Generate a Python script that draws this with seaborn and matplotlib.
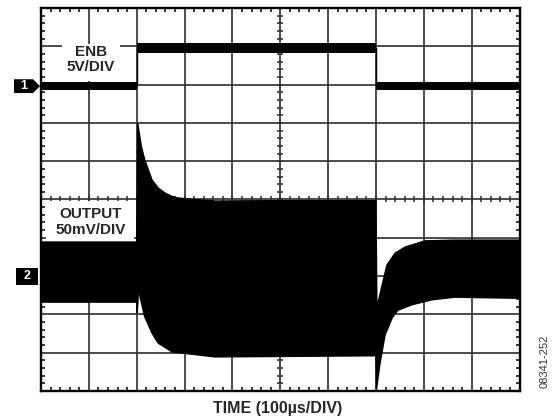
import numpy as np
import pandas as pd
import matplotlib
matplotlib.use("Agg")
import matplotlib.pyplot as plt
from matplotlib.patches import Rectangle, Polygon
import seaborn as sns

# -----------------------------
# Data (read from the scope shot, units = divisions, 10 x 10 grid)
# -----------------------------
# channel 1: ENB, thick noisy band
enb_time = [0.0, 2.0, 7.0, 10.0]
enb_level = [7.96, 8.96, 7.96, 7.96]
enb_noise = [0.11, 0.13, 0.11, 0.11]

# channel 2: OUTPUT, upper and lower edge of the noise band
out_top_time = [0.0, 2.0, 2.02, 2.10, 2.17, 2.32, 2.45, 2.59, 2.74, 2.86, 3.20, 3.64,
                5.00, 7.00, 7.02, 7.13, 7.23, 7.40, 7.61, 8.03, 8.65, 10.0]
out_top = [3.89, 3.89, 7.00, 6.37, 6.03, 5.51, 5.30, 5.17, 5.08, 5.04, 5.00, 4.96,
           4.97, 4.97, 2.17, 2.77, 3.29, 3.60, 3.76, 3.92, 3.94, 3.94]
out_bot_time = [0.0, 2.0, 2.01, 2.025, 2.04, 2.07, 2.17, 2.32, 2.45, 2.74, 3.64,
                7.00, 7.01, 7.08, 7.19, 7.34, 7.46, 7.75, 8.17, 8.65, 10.0]
out_bot = [2.32, 2.32, 2.05, 2.30, 2.82, 2.45, 1.93, 1.51, 1.25, 1.02, 0.89,
           0.92, 0.03, 0.68, 1.46, 1.91, 2.11, 2.25, 2.38, 2.45, 2.42]

# channel ground markers
ch1_ref = 7.96
ch2_ref = 3.0

enb = pd.DataFrame({"time": enb_time, "level": enb_level, "noise": enb_noise})

# -----------------------------
# Style
# -----------------------------
sns.set_theme(style="white")
plt.rcParams["font.family"] = ["Liberation Sans", "DejaVu Sans"]

fig = plt.figure(figsize=(5.59, 4.2), dpi=100)
ax = fig.add_axes([41 / 559, 29 / 420, 478.5 / 559, 383 / 420])
ax.set_xlim(0, 10)
ax.set_ylim(0, 10)

# graticule
grid_col = "#2e2e2e"
ax.set_xticks(range(11))
ax.set_yticks(range(11))
ax.set_xticks(np.arange(0, 10.01, 0.2), minor=True)
ax.set_yticks(np.arange(0, 10.01, 0.2), minor=True)
ax.grid(True, which="major", color=grid_col, lw=1.2, zorder=1)
ax.tick_params(which="major", length=0, labelbottom=False, labelleft=False)
ax.tick_params(which="minor", direction="in", length=3.2, width=1.1, color="black",
               top=True, right=True, bottom=True, left=True)
for s in ax.spines.values():
    s.set_color("black")
    s.set_linewidth(1.7)
ax.set_axisbelow(True)

# ticks along the centre lines
minor = np.arange(0.2, 10, 0.2)
ax.plot(np.full(len(minor), 5.0), minor, ls="none", marker="_", ms=4.5, mew=1.1,
        color=grid_col, zorder=1)
ax.plot(minor, np.full(len(minor), 5.0), ls="none", marker="|", ms=4.5, mew=1.1,
        color=grid_col, zorder=1)

# white boxes behind the channel labels
ax.add_patch(Rectangle((0.44, 8.09), 1.21, 0.97, facecolor="white", edgecolor="none", zorder=2))
ax.add_patch(Rectangle((0.10, 3.89), 1.84, 1.07, facecolor="white", edgecolor="none", zorder=2))

# -----------------------------
# Traces
# -----------------------------
ax.fill_between(enb["time"], enb["level"] - enb["noise"], enb["level"] + enb["noise"],
                step="post", color="black", lw=0, zorder=3)
sns.lineplot(data=enb, x="time", y="level", ax=ax, drawstyle="steps-post",
             estimator=None, sort=False, color="black", lw=1.0, zorder=3)

band_x = np.r_[out_top_time, out_bot_time[::-1]]
band_y = np.r_[out_top, out_bot[::-1]]
ax.fill(band_x, band_y, color="black", lw=1.0, zorder=3)

ax.set_xlabel("")
ax.set_ylabel("")

# -----------------------------
# Labels
# -----------------------------
lab = dict(fontsize=11, fontweight="bold", ha="center", va="center", zorder=4)
ax.text(1.045, 8.85, "ENB", **lab)
ax.text(1.045, 8.47, "5V/DIV", **lab)
ax.text(1.045, 4.62, "OUTPUT", **lab)
ax.text(1.045, 4.20, "50mV/DIV", **lab)

# channel markers left of the screen
m1 = Polygon([(-0.564, ch1_ref - 0.18), (-0.167, ch1_ref - 0.18), (-0.02, ch1_ref),
              (-0.167, ch1_ref + 0.18), (-0.564, ch1_ref + 0.18)],
             closed=True, facecolor="black", edgecolor="none", clip_on=False)
ax.add_patch(m1)
ax.text(-0.36, ch1_ref, "1", color="white", fontsize=9, fontweight="bold",
        ha="center", va="center", clip_on=False)
ax.add_patch(Rectangle((-0.52, ch2_ref - 0.22), 0.457, 0.44, facecolor="black",
                       edgecolor="none", clip_on=False))
ax.text(-0.29, ch2_ref, "2", color="white", fontsize=9, fontweight="bold",
        ha="center", va="center", clip_on=False)

fig.text(278 / 559, 1 - 408 / 420, "TIME (100µs/DIV)", fontsize=11.5, fontweight="bold",
         ha="center", va="center")
fig.text(545 / 559, 1 - 361 / 420, "08341-252", fontsize=8, rotation=90,
         ha="center", va="center", color="#333333")

fig.savefig("out.png", dpi=100)
